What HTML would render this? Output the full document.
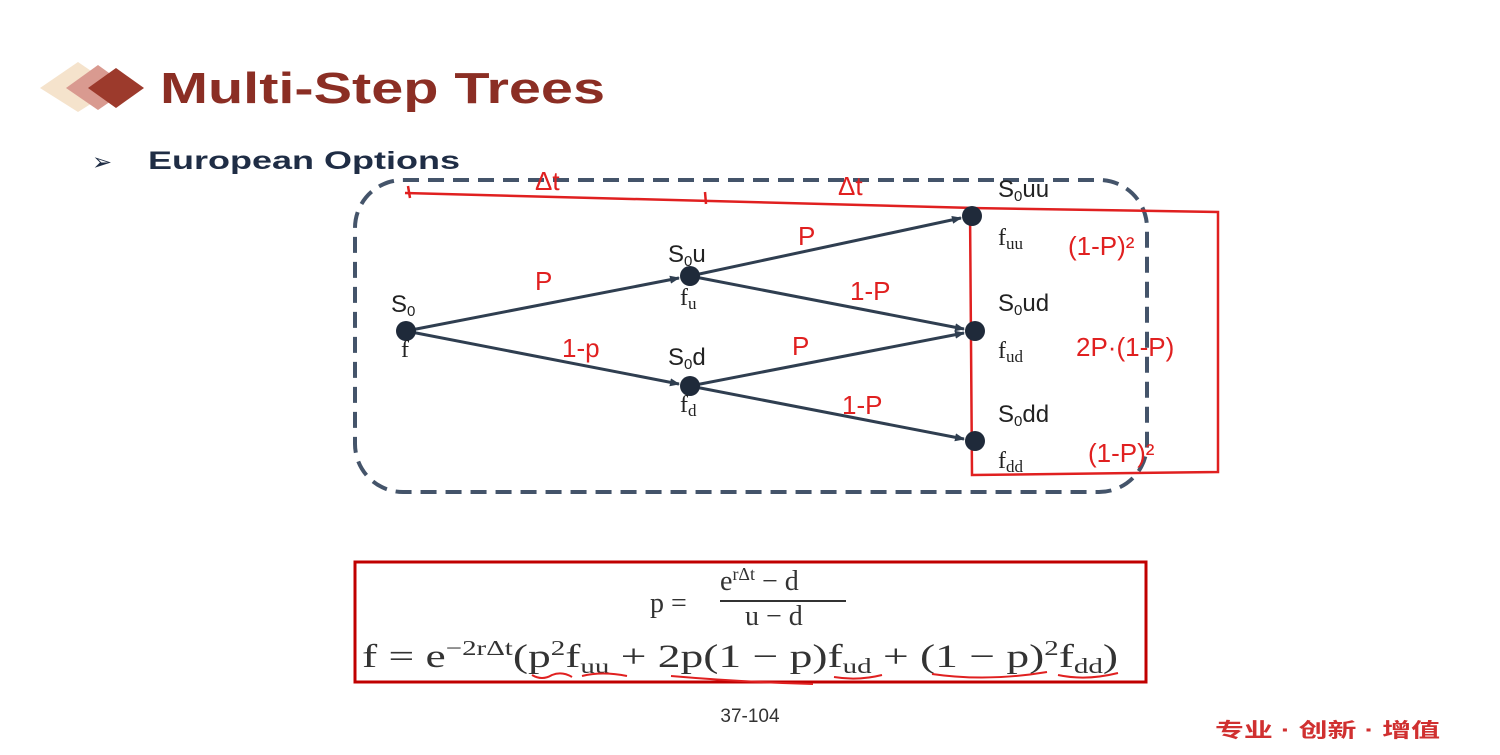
<!DOCTYPE html>
<html><head><meta charset="utf-8"><style>
body{margin:0;width:1500px;height:750px;background:#fff;overflow:hidden;font-family:"Liberation Sans",sans-serif}
</style></head><body>
<svg width="1500" height="750" xmlns="http://www.w3.org/2000/svg">
<defs><marker id="a" markerWidth="10" markerHeight="8" refX="9" refY="4" orient="auto" markerUnits="userSpaceOnUse"><path d="M0,0 L10,4 L0,8z" fill="#2f3e50"/></marker></defs>
<polygon points="40,88 78,62 116,88 78,112" fill="#f5e3cc"/>
<polygon points="66,88 98,65 130,88 98,110" fill="#d99a90"/>
<polygon points="88,88 116,68 144,88 116,108" fill="#9c3a2c"/>
<text x="160" y="103" font-size="44" font-weight="bold" fill="#8b2e24" textLength="445" lengthAdjust="spacingAndGlyphs">Multi-Step Trees</text>
<text x="92" y="170" font-size="24" fill="#1f2d45">➢</text>
<text x="148" y="169" font-size="25" font-weight="bold" fill="#1f2d45" textLength="312" lengthAdjust="spacingAndGlyphs">European Options</text>
<rect x="355" y="180" width="792" height="312" rx="48" fill="none" stroke="#44546a" stroke-width="4" stroke-dasharray="16,9"/>
<g stroke="#e02020" stroke-width="2.5" fill="none">
<path d="M405,193 L975,208"/>
<path d="M970,208 L1218,212 L1218,472 L972,475 Z"/>
<path d="M408,186 L410,198 M705,192 L706,204"/>
</g>
<g fill="#e02020" font-family="Liberation Sans,sans-serif" font-size="26">
<text x="535" y="190">Δt</text><text x="838" y="195">Δt</text>
<text x="535" y="290">P</text><text x="798" y="245">P</text>
<text x="850" y="300">1-P</text><text x="562" y="357">1-p</text>
<text x="792" y="355">P</text><text x="842" y="414">1-P</text>
<text x="1068" y="255">(1-P)²</text><text x="1076" y="356">2P·(1-P)</text><text x="1088" y="462">(1-P)²</text>
</g>
<g stroke="#2f3e50" stroke-width="3" marker-end="url(#a)">
<line x1="406" y1="331" x2="679" y2="278"/>
<line x1="406" y1="331" x2="679" y2="384"/>
<line x1="690" y1="276" x2="961" y2="218"/>
<line x1="690" y1="276" x2="964" y2="329"/>
<line x1="690" y1="386" x2="964" y2="333"/>
<line x1="690" y1="386" x2="964" y2="439"/>
</g>
<g fill="#1f2a3a">
<circle cx="406" cy="331" r="10"/><circle cx="690" cy="276" r="10"/><circle cx="690" cy="386" r="10"/>
<circle cx="972" cy="216" r="10"/><circle cx="975" cy="331" r="10"/><circle cx="975" cy="441" r="10"/>
</g>
<g font-family="Liberation Sans,sans-serif" font-size="24" fill="#222">
<text x="391" y="312">S<tspan font-size="15" dy="4">0</tspan></text>
<text font-family="Liberation Serif,serif" x="401" y="357">f</text>
<text x="668" y="262">S<tspan font-size="15" dy="4">0</tspan><tspan dy="-4">u</tspan></text>
<text font-family="Liberation Serif,serif" x="680" y="305">f<tspan font-size="17" dy="4">u</tspan></text>
<text x="668" y="365">S<tspan font-size="15" dy="4">0</tspan><tspan dy="-4">d</tspan></text>
<text font-family="Liberation Serif,serif" x="680" y="412">f<tspan font-size="17" dy="4">d</tspan></text>
<text x="998" y="197">S<tspan font-size="15" dy="4">0</tspan><tspan dy="-4">uu</tspan></text>
<text font-family="Liberation Serif,serif" x="998" y="245">f<tspan font-size="17" dy="4">uu</tspan></text>
<text x="998" y="311">S<tspan font-size="15" dy="4">0</tspan><tspan dy="-4">ud</tspan></text>
<text font-family="Liberation Serif,serif" x="998" y="358">f<tspan font-size="17" dy="4">ud</tspan></text>
<text x="998" y="422">S<tspan font-size="15" dy="4">0</tspan><tspan dy="-4">dd</tspan></text>
<text font-family="Liberation Serif,serif" x="998" y="468">f<tspan font-size="17" dy="4">dd</tspan></text>
</g>
<rect x="355" y="562" width="791" height="120" fill="none" stroke="#c00000" stroke-width="3"/>
<g font-family="Liberation Serif,serif" font-size="28" fill="#333">
<text x="650" y="612">p =</text>
<text x="720" y="590">e<tspan font-size="18" dy="-10">rΔt</tspan><tspan dy="10"> − d</tspan></text>
<line x1="720" y1="601" x2="846" y2="601" stroke="#333" stroke-width="2"/>
<text x="745" y="625">u − d</text>
<text x="362" y="667" font-size="33" textLength="756" lengthAdjust="spacingAndGlyphs">f = e<tspan font-size="21" dy="-12">−2rΔt</tspan><tspan dy="12">(p</tspan><tspan font-size="21" dy="-12">2</tspan><tspan dy="12">f</tspan><tspan font-size="21" dy="6">uu</tspan><tspan dy="-6"> + 2p(1 − p)f</tspan><tspan font-size="21" dy="6">ud</tspan><tspan dy="-6"> + (1 − p)</tspan><tspan font-size="21" dy="-12">2</tspan><tspan dy="12">f</tspan><tspan font-size="21" dy="6">dd</tspan><tspan dy="-6">)</tspan></text>
</g>
<g stroke="#e02020" stroke-width="2" fill="none">
<path d="M532,675 q10,6 20,0 q10,-4 20,2 M582,676 q20,-5 45,0 M671,676 q70,6 142,8 M834,677 q24,4 48,-2 M932,674 q55,8 115,-2 M1058,675 q28,6 60,-2"/>
</g>
<text x="750" y="722" font-size="19" fill="#333" text-anchor="middle">37-104</text>
<text x="1215" y="737" font-size="20" font-weight="bold" fill="#d03030" font-family="Liberation Sans,Noto Sans CJK SC,sans-serif" textLength="225" lengthAdjust="spacingAndGlyphs">专业 · 创新 · 增值</text>
</svg>
</body></html>
